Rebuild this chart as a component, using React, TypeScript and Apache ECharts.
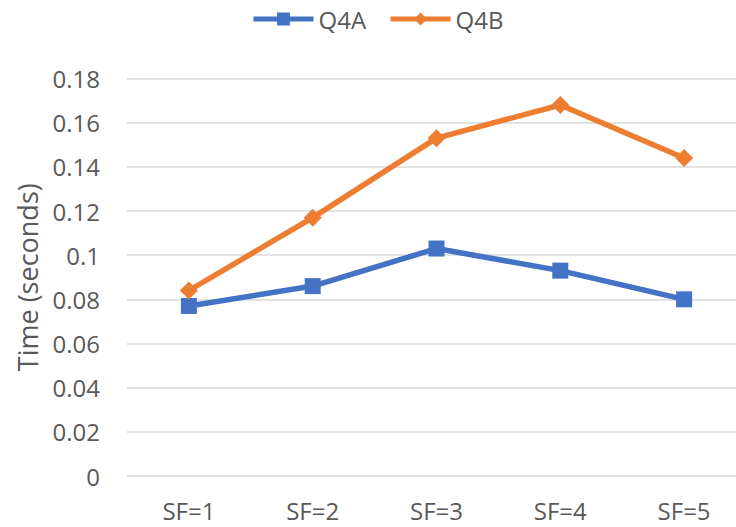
import React, { useEffect, useRef } from "react";
import * as echarts from "echarts";

const categories = ["SF=1", "SF=2", "SF=3", "SF=4", "SF=5"];
const q4a = [0.077, 0.086, 0.103, 0.093, 0.08];
const q4b = [0.084, 0.117, 0.153, 0.168, 0.144];
const yTicks = { min: 0, max: 0.18, interval: 0.02 };

const FONT = "'Open Sans', sans-serif";
const TEXT = "#595959";
const FS = 24;

export default function App() {
  const ref = useRef<HTMLDivElement>(null);
  useEffect(() => {
    const chart = echarts.init(ref.current!, null, { renderer: "svg" });
    chart.setOption({
      animation: false,
      backgroundColor: "#ffffff",
      textStyle: { fontFamily: FONT },
      legend: {
        top: 2,
        left: 246,
        itemWidth: 60,
        itemHeight: 16,
        itemGap: 22,
        lineStyle: { width: 5 },
        textStyle: { fontSize: FS, color: TEXT, fontFamily: FONT },
        data: ["Q4A", "Q4B"],
      },
      grid: {
        left: 127,
        width: 619,
        top: 78.5,
        bottom: 51,
        containLabel: false,
        outerBoundsMode: "none",
      },
      xAxis: {
        type: "category",
        data: categories,
        boundaryGap: true,
        axisLine: { show: false },
        axisTick: { show: false },
        axisLabel: { fontSize: FS, color: TEXT, margin: 22, fontFamily: FONT },
      },
      yAxis: {
        type: "value",
        min: yTicks.min,
        max: yTicks.max,
        interval: yTicks.interval,
        name: "Time (seconds)",
        nameLocation: "middle",
        nameGap: 86,
        nameTextStyle: { fontSize: 27, color: TEXT, fontFamily: FONT },
        axisLine: { show: false },
        axisTick: { show: false },
        axisLabel: {
          fontSize: FS,
          color: TEXT,
          margin: 27,
          fontFamily: FONT,
          formatter: (v: number) => String(parseFloat(v.toFixed(2))),
        },
        splitLine: { lineStyle: { color: "#D9D9D9", width: 1.5 } },
      },
      series: [
        {
          name: "Q4A",
          type: "line",
          data: q4a,
          symbol: "rect",
          symbolSize: 16,
          lineStyle: { color: "#4472C4", width: 5.5 },
          itemStyle: { color: "#4472C4" },
        },
        {
          name: "Q4B",
          type: "line",
          data: q4b,
          symbol: "diamond",
          symbolSize: 18,
          lineStyle: { color: "#ED7D31", width: 5.5 },
          itemStyle: { color: "#ED7D31" },
        },
      ],
    });
    return () => chart.dispose();
  }, []);
  return (
    <div
      ref={ref}
      style={{ position: "fixed", left: 0, top: 0, width: 736, height: 527 }}
    />
  );
}
